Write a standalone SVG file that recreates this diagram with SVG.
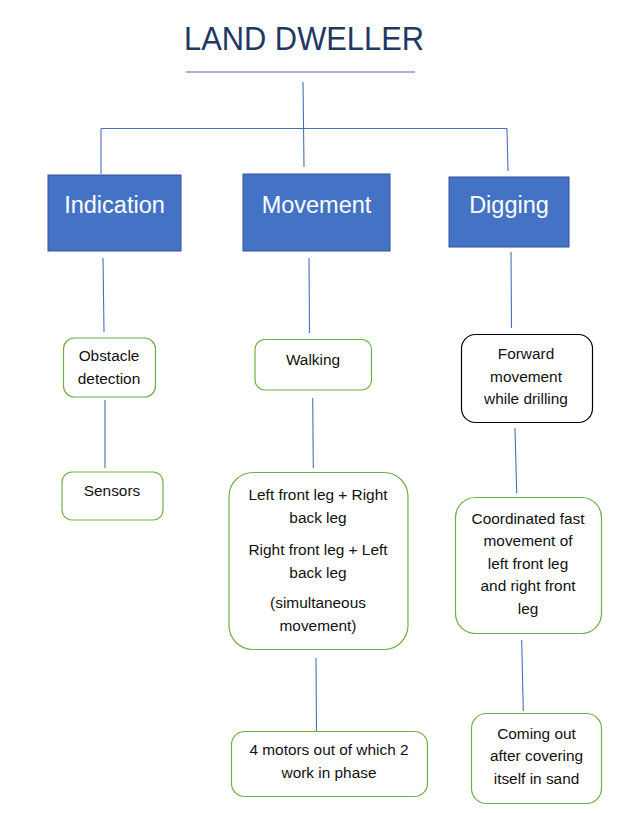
<svg xmlns="http://www.w3.org/2000/svg" width="619" height="813" viewBox="0 0 619 813">
<style>
.t{font-family:"Liberation Sans",Arial,sans-serif;font-size:15.4px;fill:#111;text-anchor:middle}
.h{font-family:"Liberation Sans",Arial,sans-serif;font-size:23.5px;fill:#fff;text-anchor:middle}
.blue{fill:#4472C4;stroke:#2F5597;stroke-width:1}
.green{fill:#fff;stroke:#70AD47;stroke-width:1.2}
.black{fill:#fff;stroke:#000;stroke-width:1.2}
.c line{stroke:#4A6FB5;stroke-width:1.1;fill:none}
</style>
<rect width="619" height="813" fill="#fff"/>
<g id="title">
<text x="304" y="49.5" font-family="'Liberation Sans',Arial,sans-serif" font-size="33" fill="#1F3864" text-anchor="middle" textLength="240" lengthAdjust="spacingAndGlyphs">LAND DWELLER</text>
</g>
<g class="c" id="connectors">
<line x1="186" y1="72" x2="415" y2="72"/>
<line x1="303" y1="82" x2="304" y2="167"/>
<line x1="101" y1="128.5" x2="507" y2="128.5"/>
<line x1="101" y1="128.5" x2="101" y2="174"/>
<line x1="507" y1="128.5" x2="508" y2="171"/>
<line x1="103" y1="258" x2="104" y2="332"/>
<line x1="105" y1="400" x2="105" y2="468"/>
<line x1="309" y1="258" x2="309.5" y2="333"/>
<line x1="312.7" y1="398" x2="313.3" y2="468"/>
<line x1="316" y1="658" x2="316.5" y2="731"/>
<line x1="511" y1="252" x2="511.5" y2="328"/>
<line x1="515" y1="428" x2="516.7" y2="493"/>
<line x1="521.7" y1="640" x2="523.3" y2="711"/>
</g>
<g id="indication"><rect class="blue" x="48" y="175" width="133" height="76"/><text class="h" x="114.5" y="213">Indication</text></g>
<g id="movement"><rect class="blue" x="243" y="174" width="147" height="77"/><text class="h" x="316.5" y="213">Movement</text></g>
<g id="digging"><rect class="blue" x="449" y="177" width="120" height="70"/><text class="h" x="509" y="213">Digging</text></g>
<g id="obstacle"><rect class="green" x="63.5" y="338" width="92" height="59" rx="11"/><text class="t" x="109" y="361">Obstacle</text><text class="t" x="109" y="383.5">detection</text></g>
<g id="sensors"><rect class="green" x="62" y="472" width="101" height="48" rx="10"/><text class="t" x="112" y="496">Sensors</text></g>
<g id="walking"><rect class="green" x="255" y="339.5" width="116.5" height="50.5" rx="10"/><text class="t" x="313" y="365">Walking</text></g>
<g id="legs"><rect class="green" x="229" y="472.5" width="179" height="177" rx="24"/>
<text class="t" x="318" y="500">Left front leg + Right</text>
<text class="t" x="318" y="523">back leg</text>
<text class="t" x="318" y="555">Right front leg + Left</text>
<text class="t" x="318" y="577.5">back leg</text>
<text class="t" x="318" y="607.5">(simultaneous</text>
<text class="t" x="318" y="630.5">movement)</text></g>
<g id="motors"><rect class="green" x="231.5" y="731.5" width="196" height="65" rx="13"/><text class="t" x="329" y="755">4 motors out of which 2</text><text class="t" x="329" y="778">work in phase</text></g>
<g id="forward"><rect class="black" x="461.5" y="334.5" width="131" height="88" rx="14"/><text class="t" x="526" y="358.5">Forward</text><text class="t" x="526" y="381.5">movement</text><text class="t" x="526" y="403.5">while drilling</text></g>
<g id="coordinated"><rect class="green" x="455.5" y="497.5" width="146" height="136" rx="20"/>
<text class="t" x="528" y="523.5">Coordinated fast</text>
<text class="t" x="528" y="546">movement of</text>
<text class="t" x="528" y="568.5">left front leg</text>
<text class="t" x="528" y="591">and right front</text>
<text class="t" x="528" y="613.5">leg</text></g>
<g id="comingout"><rect class="green" x="471.5" y="713.5" width="130" height="90" rx="15"/>
<text class="t" x="536.5" y="738.5">Coming out</text>
<text class="t" x="536.5" y="761">after covering</text>
<text class="t" x="536.5" y="783.5">itself in sand</text></g>
</svg>
